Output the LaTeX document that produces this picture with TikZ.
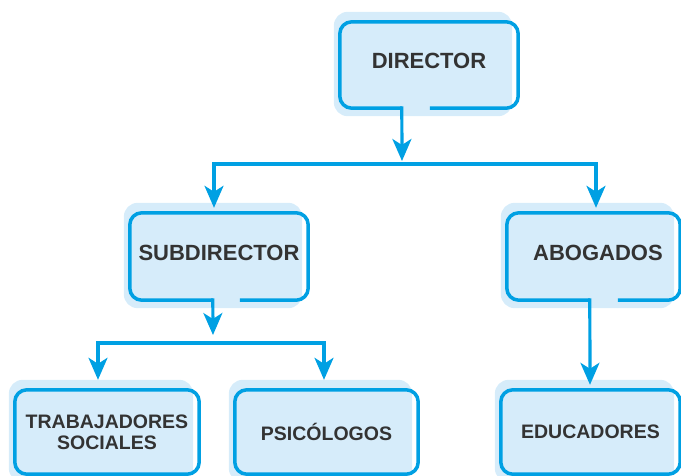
\documentclass[tikz,border=0pt]{standalone}
\usepackage{fontspec}
\setmainfont{Liberation Sans}
\usetikzlibrary{arrows.meta,calc,backgrounds}
\definecolor{orgblue}{RGB}{0,160,227}
\definecolor{shadeblue}{RGB}{214,236,250}
\definecolor{txtgray}{RGB}{51,51,51}

\begin{document}
\begin{tikzpicture}[line cap=butt,line join=miter,x=1pt,y=-1pt,
  box/.style={inner sep=0pt,align=center,text=txtgray,font=\bfseries\fontsize{22}{24}\selectfont,text depth=8pt},
  leaf/.style={inner sep=0pt,align=center,text=txtgray,font=\bfseries\fontsize{19.5}{21}\selectfont},
  shade/.style={fill=shadeblue,rounded corners=14pt},
  outline/.style={draw=orgblue,line width=3.5pt,rounded corners=12pt},
  link/.style={draw=orgblue,line width=3.2pt},
  arr/.style={link,-{Stealth[length=22pt,width=19pt,inset=6pt]}}]
\clip (0,0) rectangle (681,476);
% boxes
\node[box,minimum width=178pt,minimum height=86pt] (dir) at (429,65) {DIRECTOR};
\node[box,minimum width=178pt,minimum height=87pt] (sub) at (219,256.5) {SUBDIRECTOR};
\node[box,minimum width=173pt,minimum height=87pt] (abo) at (593.5,256.5) {\hspace*{9pt}ABOGADOS};
\node[leaf,minimum width=184pt,minimum height=84pt] (trab) at (107,432) {TRABAJADORES\\SOCIALES};
\node[leaf,minimum width=183pt,minimum height=84pt] (psi) at (326.5,432) {PSICÓLOGOS};
\node[leaf,minimum width=179pt,minimum height=84pt] (edu) at (590.5,432) {EDUCADORES};
\begin{pgfonlayer}{background}
\foreach \b in {dir,sub,abo,trab,psi,edu}
  \fill[shade] ($(\b.south west)+(-6,8)$) rectangle ($(\b.north east)+(-6,-10)$);
\end{pgfonlayer}
% outlines, open at the bottom where a line leaves
\foreach \b in {trab,psi,edu}
  \draw[outline] (\b.south west) rectangle (\b.north east);
\coordinate (dirOut) at ($(dir.south west)+(62,0)$);
\coordinate (dirGap) at ($(dir.south west)+(90,0)$);
\coordinate (subOut) at ($(sub.south west)+(83,0)$);
\coordinate (subGap) at ($(sub.south west)+(110,0)$);
\coordinate (aboOut) at ($(abo.south west)+(83,0)$);
\coordinate (aboGap) at ($(abo.south west)+(111,0)$);
\draw[outline] (dirGap) -| (dir.north east) -| (dir.south west) -- (dirOut);
\draw[outline] (subGap) -| (sub.north east) -| (sub.south west) -- (subOut);
\draw[outline] (aboGap) -| (abo.north east) -| (abo.south west) -- (aboOut);
% connectors
\coordinate (dirJoin) at (402,161);
\coordinate (dirBus) at (402,164);
\draw[arr] ($(dirOut)+(0,-1.75)$) -- (dirJoin);
\draw[arr] (dirBus) -| ($(sub.north)+(-5,-5)$);
\draw[arr] (dirBus) -| ($(abo.north)+(2.5,-5)$);
\coordinate (subJoin) at (213,335);
\coordinate (subBus) at (213,343);
\draw[arr] ($(subOut)+(0,-1.75)$) -- (subJoin);
\draw[arr] (subBus) -| ($(trab.north)+(-9,-10)$);
\draw[arr] (subBus) -| ($(psi.north)+(-2.5,-10)$);
\draw[arr] ($(aboOut)+(0,-1.75)$) -- ($(edu.north)+(-0.5,-5)$);
\end{tikzpicture}
\end{document}
